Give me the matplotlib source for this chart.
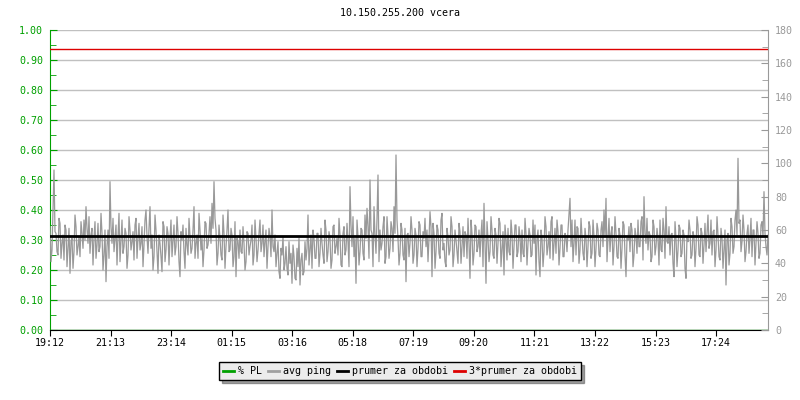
import matplotlib
matplotlib.use('Agg')
import matplotlib.pyplot as plt
import numpy as np
from matplotlib.ticker import MultipleLocator

plt.rcParams['font.family'] = ['DejaVu Sans Mono']

title = '10.150.255.200 vcera'
tick_labels = ['19:12', '21:13', '23:14', '01:15', '03:16', '05:18',
               '07:19', '09:20', '11:21', '13:22', '15:23', '17:24']
tick_step = 121.1  # minutes between time labels
sample_step = 2    # minutes between ping samples

# avg ping [ms]: samples at even 4-minute marks
ping_even = [
    62, 48, 96, 58, 45, 64, 52, 42, 60, 50, 34, 55, 47, 62, 50, 44, 58, 66, 74, 52, 46, 61, 55, 43, 64, 50, 58, 45, 29, 60,
    89, 52, 47, 63, 56, 41, 66, 50, 58, 45, 60, 53, 42, 67, 55, 48, 62, 51, 72, 46, 74, 57, 44, 60, 34, 52, 35, 62, 48, 58,
    55, 44, 63, 50, 58, 32, 54, 47, 61, 45, 56, 49, 74, 52, 43, 60, 55, 48, 64, 51, 68, 76, 89, 60, 46, 55, 42, 58, 50, 72,
    48, 57, 44, 32, 53, 60, 46, 52, 41, 58, 50, 63, 45, 55, 48, 66, 52, 44, 60, 50, 56, 72, 47, 38, 53, 31, 45, 36, 50, 33,
    40, 28, 44, 30, 38, 27, 46, 35, 42, 69, 48, 37, 55, 43, 58, 46, 52, 40, 60, 47, 55, 42, 63, 50, 45, 57, 38, 62, 48, 53,
    86, 50, 44, 28, 56, 47, 60, 42, 55, 62, 90, 58, 74, 46, 93, 60, 52, 68, 44, 57, 49, 61, 74, 105, 55, 46, 60, 42, 29, 58,
    52, 60, 45, 57, 49, 63, 44, 55, 50, 41, 71, 32, 58, 47, 60, 43, 70, 52, 38, 56, 48, 62, 45, 54, 40, 59, 50, 44, 57, 67,
    31, 58, 46, 62, 50, 44, 66, 76, 28, 55, 47, 60, 43, 57, 52, 64, 48, 33, 55, 61, 45, 58, 50, 63, 47, 56, 60, 44, 58, 52,
    57, 45, 52, 33, 60, 32, 55, 47, 62, 50, 43, 68, 52, 46, 59, 49, 63, 44, 56, 60, 79, 66, 52, 45, 61, 48, 57, 42, 55, 50,
    62, 46, 56, 49, 60, 44, 65, 72, 79, 55, 47, 62, 50, 58, 43, 57, 49, 63, 32, 54, 47, 60, 45, 56, 66, 50, 68, 80, 52, 48,
    57, 44, 62, 50, 55, 66, 47, 60, 74, 52, 45, 58, 32, 55, 48, 61, 46, 57, 31, 53, 60, 45, 56, 49, 63, 44, 58, 51, 47, 69,
    52, 45, 60, 48, 57, 42, 55, 49, 27, 58, 46, 62, 50, 72, 103, 66, 53, 60, 47, 63, 55, 44, 60, 52, 58, 46, 65, 83, 50, 57,
]
# samples in between (odd 2-minute marks)
ping_odd = [
    41, 71, 59, 47, 67, 43, 57, 63, 38, 61, 53, 37, 69, 45, 56, 65, 49, 54, 61, 68, 57, 39, 65, 51, 47, 70, 36, 60, 50, 43,
    62, 67, 55, 39, 70, 53, 46, 61, 37, 68, 48, 59, 63, 43, 64, 52, 38, 66, 56, 61, 49, 36, 69, 47, 57, 44, 65, 41, 62, 39,
    66, 53, 45, 68, 41, 59, 63, 37, 51, 67, 46, 60, 43, 57, 70, 48, 38, 65, 49, 58, 52, 61, 67, 39, 63, 45, 69, 37, 60, 47,
    61, 38, 65, 55, 43, 47, 62, 36, 59, 45, 54, 39, 66, 41, 58, 47, 63, 53, 37, 61, 44, 50, 57, 46, 35, 49, 56, 40, 37, 53,
    46, 51, 31, 49, 55, 42, 33, 53, 49, 39, 57, 60, 43, 58, 38, 61, 45, 66, 41, 59, 37, 62, 46, 55, 67, 39, 58, 45, 64, 38,
    63, 68, 55, 66, 39, 61, 46, 69, 73, 43, 60, 38, 57, 67, 41, 48, 62, 40, 68, 43, 65, 47, 58, 66, 39, 64, 45, 61, 57, 44,
    68, 40, 61, 38, 65, 44, 59, 67, 60, 55, 62, 64, 37, 63, 46, 66, 48, 41, 61, 45, 68, 38, 60, 47, 64, 40, 62, 59, 43, 52,
    66, 39, 63, 47, 60, 57, 38, 52, 65, 41, 68, 45, 61, 40, 67, 38, 59, 63, 42, 47, 66, 37, 63, 44, 62, 41, 46, 67, 39, 61,
    44, 66, 63, 55, 41, 60, 38, 68, 45, 59, 65, 42, 61, 66, 39, 63, 44, 58, 47, 70, 50, 41, 66, 62, 40, 67, 46, 61, 38, 65,
    43, 66, 38, 64, 45, 60, 50, 56, 41, 67, 58, 39, 68, 44, 61, 37, 65, 45, 55, 62, 64, 38, 61, 46, 50, 65, 42, 58, 67, 59,
    41, 66, 45, 61, 39, 48, 67, 43, 53, 62, 57, 40, 65, 38, 63, 44, 60, 37, 56, 66, 43, 59, 38, 68, 45, 61, 40, 64, 58, 49,
    66, 59, 38, 68, 44, 61, 37, 60, 54, 39, 67, 46, 66, 57, 64, 47, 69, 41, 58, 46, 67, 60, 39, 65, 43, 63, 56, 58, 45, 53,
]
mean_ping = 56.3   # prumer za obdobi [ms]

avg_ping = np.column_stack((ping_even, ping_odd)).ravel()
packet_loss = np.zeros(len(avg_ping))   # % PL, nothing lost
t = np.arange(len(avg_ping)) * sample_step

green = '#00a000'
gray = '#999999'
red = '#dd0000'

fig = plt.figure(figsize=(8, 4), dpi=100)
ax = fig.add_axes([50 / 800, 70 / 400, 718 / 800, 300 / 400])
ax2 = ax.twinx()

# left axis: % PL
ax.plot(t, packet_loss, color=green, lw=1, zorder=1)
ax.set_ylim(0, 1)
ax.set_xlim(0, 1436)
ax.yaxis.set_major_locator(MultipleLocator(0.1))
ax.yaxis.set_minor_locator(MultipleLocator(0.05))
ax.yaxis.set_major_formatter(matplotlib.ticker.FormatStrFormatter('%.2f'))
ax.grid(axis='y', color='#c0c0c0', lw=1)
ax.set_axisbelow(True)
ax.tick_params(axis='y', which='both', direction='in', colors=green,
               labelsize=7.2, pad=5)
ax.tick_params(axis='y', which='major', length=5)
ax.tick_params(axis='y', which='minor', length=4)
ax.set_xticks(np.arange(len(tick_labels)) * tick_step)
ax.set_xticklabels(tick_labels)
ax.tick_params(axis='x', direction='out', length=4, labelsize=7.2, pad=1.5)
ax.spines['left'].set_color(green)
ax.spines['top'].set_visible(False)
ax.spines['right'].set_visible(False)

# right axis: ping in ms
ax2.plot(t, avg_ping, color=gray, lw=0.9)
ax2.axhline(mean_ping, color='black', lw=2)
ax2.axhline(3 * mean_ping, color=red, lw=1)
ax2.set_ylim(0, 180)
ax2.yaxis.set_major_locator(MultipleLocator(20))
ax2.yaxis.set_minor_locator(MultipleLocator(10))
ax2.tick_params(axis='y', which='both', direction='in', colors=gray,
                labelsize=7.2, pad=5)
ax2.tick_params(axis='y', which='major', length=5)
ax2.tick_params(axis='y', which='minor', length=4)
ax2.spines['right'].set_color(gray)
for s in ['top', 'left', 'bottom']:
    ax2.spines[s].set_visible(False)

fig.text(0.5, 1 - 13 / 400, title, ha='center', va='center', fontsize=7.2)

h = [plt.Line2D([], [], color=c, lw=2) for c in [green, '#a0a0a0', 'black', red]]
leg = fig.legend(h, ['% PL', 'avg ping', 'prumer za obdobi', '3*prumer za obdobi'],
                 loc='center', bbox_to_anchor=(0.5, 1 - 371 / 400), ncol=4,
                 fontsize=7.2, frameon=True, fancybox=False, shadow=True,
                 facecolor='#ececec', edgecolor='black', framealpha=1,
                 handlelength=1.1, handletextpad=0.4, columnspacing=0.6,
                 borderpad=0.4, borderaxespad=0)
leg.get_frame().set_linewidth(1)

fig.savefig('out.png', dpi=100)
